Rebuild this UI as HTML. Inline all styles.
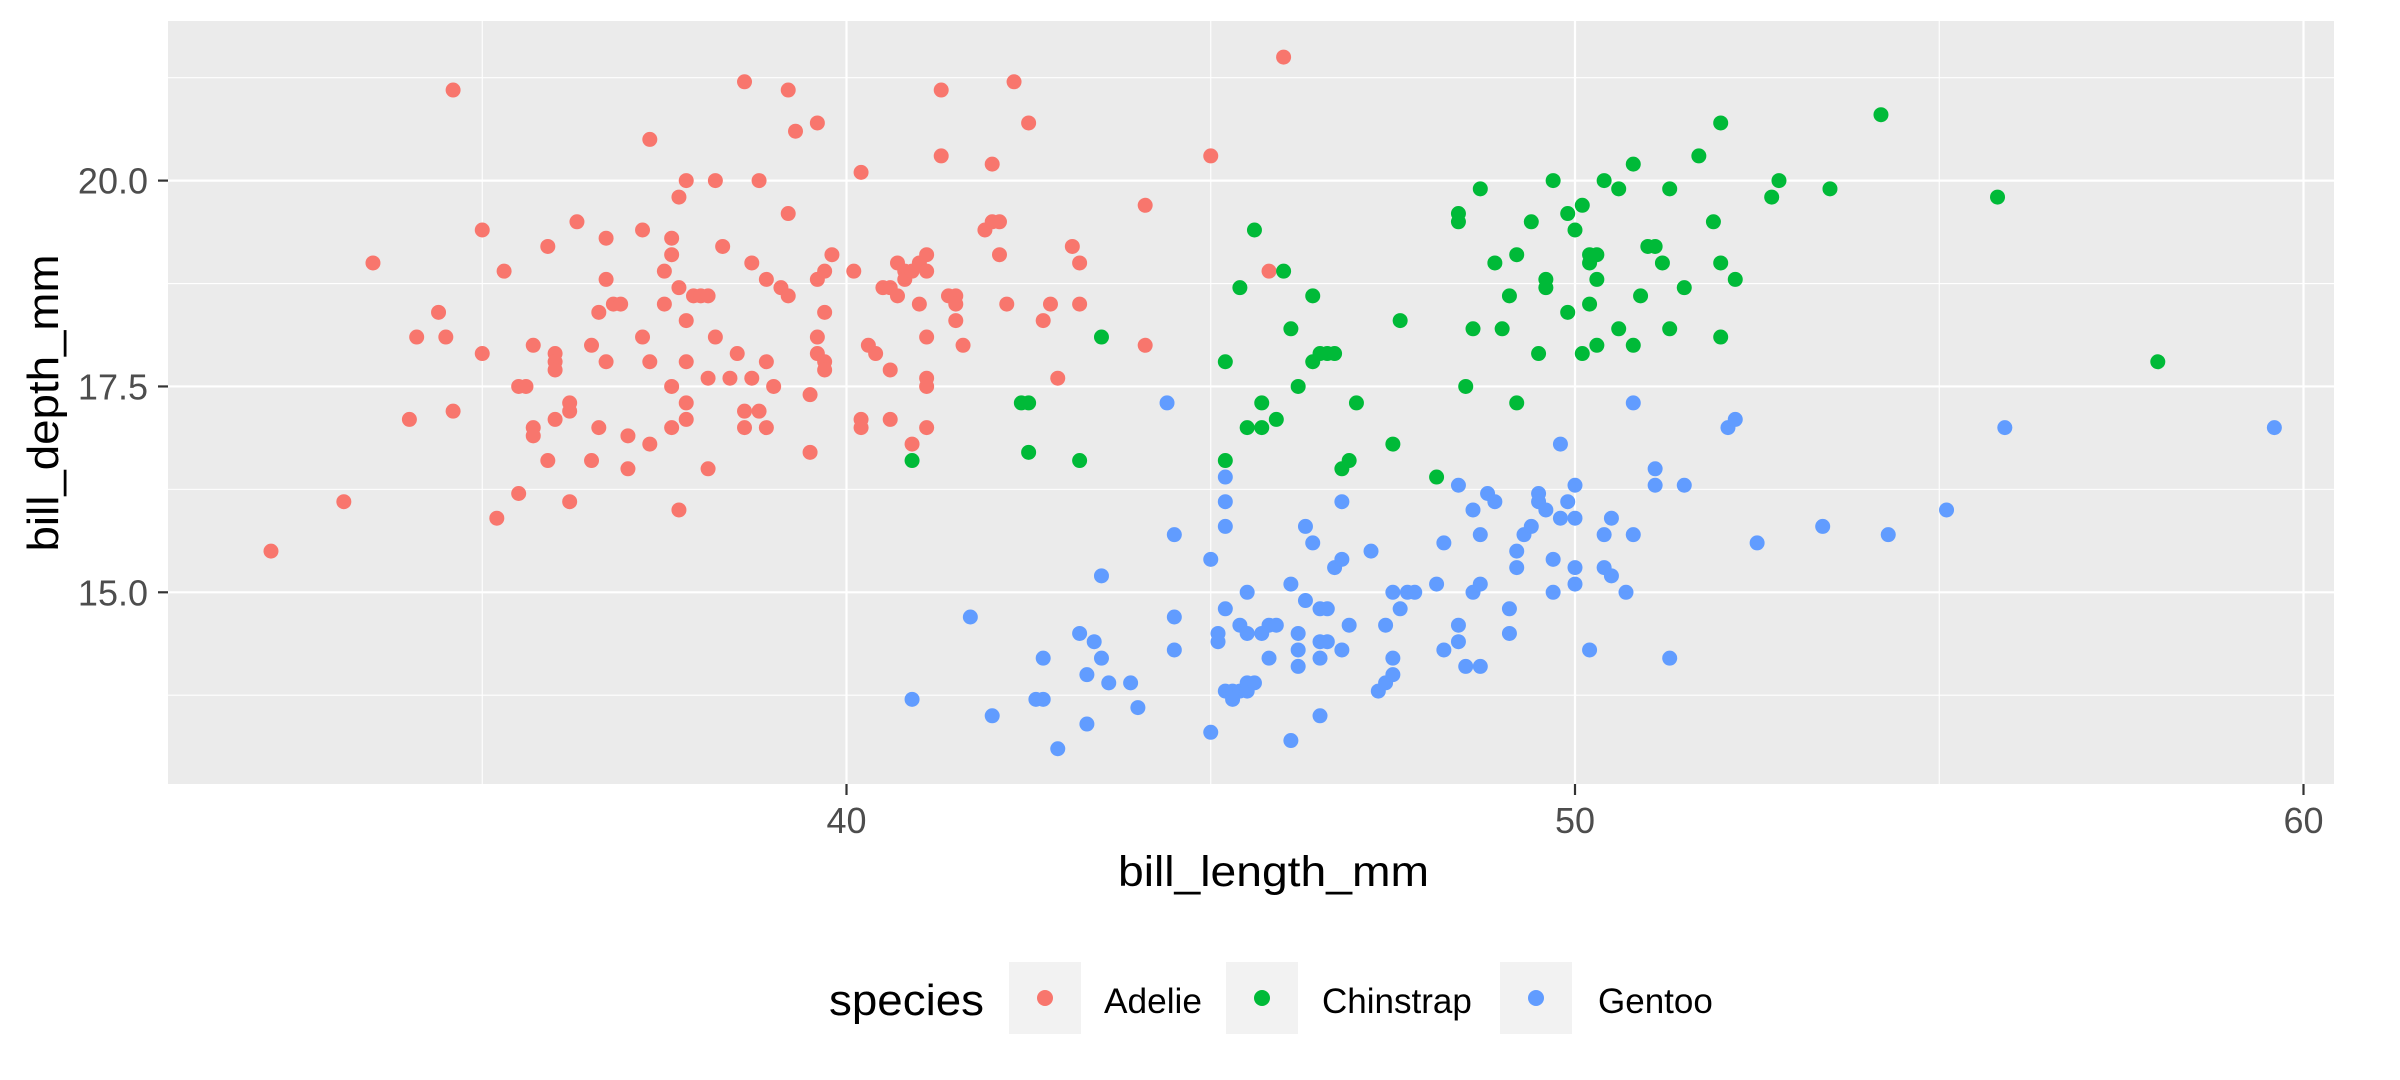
<!DOCTYPE html>
<html>
<head>
<meta charset="utf-8">
<style>
  html,body{margin:0;padding:0;background:#fff;}
  svg{display:block;font-family:"Liberation Sans",Arial,sans-serif;}
</style>
</head>
<body>
<svg id="chart" width="2400" height="1080" viewBox="0 0 2400 1080" xmlns="http://www.w3.org/2000/svg">
  <rect x="0" y="0" width="2400" height="1080" fill="#ffffff"/>
  <rect x="168" y="21" width="2166" height="763" fill="#EBEBEB"/>
  <g id="grid"></g>
  <g id="points"></g>
  <g id="yticks"></g>
  <g id="xticks"></g>
  <text x="58" y="403" transform="rotate(-90 58 403)" text-anchor="middle" font-size="44" textLength="297" lengthAdjust="spacingAndGlyphs" fill="#000">bill_depth_mm</text>
  <text x="1118" y="886" font-size="43" textLength="311" lengthAdjust="spacingAndGlyphs" fill="#000">bill_length_mm</text>
  <g>
    <text x="829" y="1015" font-size="44" textLength="155" lengthAdjust="spacingAndGlyphs" fill="#000">species</text>
    <g>
      <rect x="1009" y="962" width="72" height="72" fill="#F2F2F2"/>
      <circle cx="1045" cy="998" r="8" fill="#F8766D"/>
      <text x="1104" y="1013" font-size="35" textLength="98" lengthAdjust="spacingAndGlyphs" fill="#000">Adelie</text>
    </g>
    <g>
      <rect x="1226" y="962" width="72" height="72" fill="#F2F2F2"/>
      <circle cx="1262" cy="998" r="8" fill="#00BA38"/>
      <text x="1322" y="1013" font-size="35" fill="#000">Chinstrap</text>
    </g>
    <g>
      <rect x="1500" y="962" width="72" height="72" fill="#F2F2F2"/>
      <circle cx="1536" cy="998" r="8" fill="#619CFF"/>
      <text x="1598" y="1013" font-size="35" fill="#000">Gentoo</text>
    </g>
  </g>
</svg>
<script>
const xTicks = [40, 50, 60];
const xTickLabels = ["40", "50", "60"];
const xMinor = [35, 45, 55];
const yTicks = [15, 17.5, 20];
const yTickLabels = ["15.0", "17.5", "20.0"];
const yMinor = [13.75, 16.25, 18.75, 21.25];

const adelieX = [32.1,33.1,33.5,34.0,34.1,34.4,34.6,34.5,34.6,35.0,35.0,35.2,35.3,35.5,35.5,35.6,35.7,35.7,35.7,35.9,35.9,36.0,36.0,36.0,36.0,36.2,36.2,36.2,36.3,36.5,36.5,36.6,36.6,36.7,36.7,36.7,36.8,36.9,37.0,37.0,37.2,37.2,37.3,37.3,37.3,37.5,37.5,37.6,37.6,37.6,37.6,37.7,37.7,37.7,37.8,37.8,37.8,37.8,37.8,37.9,38.0,38.1,38.1,38.1,38.2,38.2,38.3,38.4,38.5,38.6,38.6,38.6,38.7,38.7,38.8,38.8,38.9,38.9,38.9,39.0,39.1,39.2,39.2,39.2,39.3,39.5,39.5,39.6,39.6,39.6,39.6,39.7,39.7,39.7,39.7,39.8,40.1,40.2,40.2,40.3,40.2,40.4,40.5,40.6,40.6,40.6,40.7,40.8,40.8,40.7,40.9,40.9,41.0,41.0,41.1,41.1,41.1,41.1,41.1,41.1,41.3,41.3,41.4,41.5,41.5,41.5,41.6,41.9,42.0,42.0,42.1,42.1,42.2,42.3,42.5,42.7,42.8,42.9,43.1,43.2,43.2,44.1,44.1,45.0,46.0,45.8];
const adelieY = [15.5,16.1,19.0,17.1,18.1,18.4,21.1,18.1,17.2,19.4,17.9,15.9,18.9,16.2,17.5,17.5,18.0,17.0,16.9,19.2,16.6,17.9,17.8,17.1,17.7,17.3,17.2,16.1,19.5,16.6,18.0,18.4,17.0,18.8,19.3,17.8,18.5,18.5,16.9,16.5,19.4,18.1,17.8,16.8,20.5,18.9,18.5,19.3,19.1,17.5,17.0,18.7,19.8,16.0,20.0,18.3,17.8,17.3,17.1,18.6,18.6,16.5,18.6,17.6,20.0,18.1,19.2,17.6,17.9,21.2,17.2,17.0,19.0,17.6,20.0,17.2,18.8,17.8,17.0,17.5,18.7,18.6,19.6,21.1,20.6,17.4,16.7,20.7,18.8,18.1,17.9,17.8,17.7,18.4,18.9,19.1,18.9,17.1,20.1,18.0,17.0,17.9,18.7,17.1,17.7,18.7,19.0,18.9,18.8,18.6,16.8,18.9,19.0,18.5,18.9,19.1,17.6,17.5,18.1,17.0,21.1,20.3,18.6,18.6,18.5,18.3,18.0,19.4,20.2,19.5,19.5,19.1,18.5,21.2,20.7,18.3,18.5,17.6,19.2,19.0,18.5,19.7,18.0,20.3,21.5,18.9];

const chinX = [40.9,42.4,42.5,42.5,43.2,43.5,45.2,45.2,45.4,45.6,45.5,45.7,45.7,45.9,46.0,46.1,46.2,46.4,46.4,46.5,46.6,46.7,46.8,46.9,47.0,47.6,47.5,48.1,48.5,48.4,48.4,48.7,48.6,48.9,49.0,49.1,49.2,49.2,49.4,49.5,49.6,49.6,49.7,49.9,49.9,50.0,50.1,50.2,50.2,50.2,50.3,50.3,50.3,50.4,50.6,50.6,50.8,50.8,50.9,51.0,51.1,51.2,51.3,51.3,51.5,51.7,51.9,52.0,52.0,52.0,52.2,52.7,52.8,53.5,54.2,55.8,58.0,50.1];
const chinY = [16.6,17.3,17.3,16.7,16.6,18.1,16.6,17.8,18.7,19.4,17.0,17.0,17.3,17.1,18.9,18.2,17.5,18.6,17.8,17.9,17.9,17.9,16.5,16.6,17.3,18.3,16.8,16.4,17.5,19.6,19.5,19.9,18.2,19.0,18.2,18.6,19.1,17.3,19.5,17.9,18.8,18.7,20.0,19.6,18.4,19.4,19.7,19.0,18.5,19.1,19.1,18.8,18.0,20.0,18.2,19.9,20.2,18.0,18.6,19.2,19.2,19.0,19.9,18.2,18.7,20.3,19.5,20.7,19.0,18.1,18.8,19.8,20.0,19.9,20.8,19.8,17.8,17.9];

const gentooX = [40.9,41.7,42.0,42.7,42.6,42.7,42.9,43.2,43.3,43.3,43.4,43.5,43.5,43.6,43.9,44.0,44.4,44.5,44.5,44.5,45.0,45.0,45.1,45.1,45.2,45.2,45.2,45.2,45.3,45.4,45.5,45.2,45.3,45.4,45.5,45.5,45.5,45.6,45.7,45.8,45.9,45.8,46.1,46.1,46.2,46.2,46.2,46.3,46.3,46.4,46.5,46.5,46.6,46.5,46.6,46.5,46.7,46.8,46.8,46.8,46.9,47.2,47.3,47.4,47.4,47.5,47.5,47.5,47.7,47.8,47.6,48.1,48.2,48.2,48.4,48.4,48.4,48.5,48.7,48.6,48.6,48.7,48.7,48.8,48.9,49.1,49.1,49.2,49.2,49.3,49.4,49.5,49.5,49.6,49.7,49.7,49.8,49.8,49.9,50.0,50.0,50.0,50.0,50.2,50.4,50.4,50.5,50.5,50.7,50.8,50.8,51.1,51.1,51.3,51.5,52.1,52.2,52.5,53.4,54.3,55.1,55.9,59.6];
const gentooY = [13.7,14.7,13.5,14.2,13.7,13.7,13.1,14.5,13.4,14.0,14.4,14.2,15.2,13.9,13.9,13.6,17.3,14.7,14.3,15.7,13.3,15.4,14.5,14.4,16.4,16.1,15.8,13.8,13.8,13.8,13.8,14.8,13.7,14.6,15.0,13.9,14.5,13.9,14.5,14.6,14.6,14.2,13.2,15.1,14.5,14.3,14.1,15.8,14.9,15.6,13.5,14.4,14.4,14.8,14.8,14.2,15.3,15.4,16.1,14.3,14.6,15.5,13.8,13.9,14.6,14.2,14.0,15.0,15.0,15.0,14.8,15.1,15.6,14.3,16.3,14.6,14.4,14.1,14.1,16.0,15.0,15.1,15.7,16.2,16.1,14.8,14.5,15.3,15.5,15.7,15.8,16.2,16.1,16.0,15.4,15.0,16.8,15.9,16.1,15.9,16.3,15.3,15.1,14.3,15.7,15.3,15.9,15.2,15.0,15.7,17.3,16.3,16.5,14.2,16.3,17.0,17.1,15.6,15.8,15.7,16.0,17.0,17.0];

const NS = "http://www.w3.org/2000/svg";
const px0 = 168, px1 = 2334, py0 = 21, py1 = 784;
function xScale(v){ return 846.5 + (v - 40) * 72.85; }
function yScale(v){ return 592.3 - (v - 15) * 82.34; }
function mk(tag, attrs, parent){
  const el = document.createElementNS(NS, tag);
  for (const k in attrs) el.setAttribute(k, attrs[k]);
  parent.appendChild(el);
  return el;
}
const grid = document.getElementById('grid');
xMinor.forEach(v => {
  const l = mk('line', {x1:xScale(v), x2:xScale(v), y1:py0, y2:py1, stroke:'#fff', 'stroke-width':1.1}, grid);
  
  
});
yMinor.forEach(v => {
  const l = mk('line', {x1:px0, x2:px1, y1:yScale(v), y2:yScale(v), stroke:'#fff', 'stroke-width':1.1}, grid);
  
  
});
const xt = document.getElementById('xticks');
xTicks.forEach((v, i) => {
  const l = mk('line', {x1:xScale(v), x2:xScale(v), y1:py0, y2:py1, stroke:'#fff', 'stroke-width':2.2}, grid);
  
  
  const t = mk('line', {x1:xScale(v), x2:xScale(v), y1:py1, y2:py1+11, stroke:'#333', 'stroke-width':2.2}, xt);
  
  
  const tx = mk('text', {x:xScale(v), y:833, 'text-anchor':'middle', 'font-size':36, fill:'#4D4D4D'}, xt);
  tx.textContent = xTickLabels[i];
  
  
});
const yt = document.getElementById('yticks');
yTicks.forEach((v, i) => {
  const l = mk('line', {x1:px0, x2:px1, y1:yScale(v), y2:yScale(v), stroke:'#fff', 'stroke-width':2.2}, grid);
  
  
  const t = mk('line', {x1:px0-10, x2:px0, y1:yScale(v), y2:yScale(v), stroke:'#333', 'stroke-width':2.2}, yt);
  
  
  const tx = mk('text', {x:148, y:yScale(v)+13, 'text-anchor':'end', 'font-size':36, fill:'#4D4D4D'}, yt);
  tx.textContent = yTickLabels[i];
  
  
});
const pts = document.getElementById('points');
function series(xs, ys, color, name){
  for (let i = 0; i < xs.length; i++){
    const c = mk('circle', {cx:xScale(xs[i]), cy:yScale(ys[i]), r:7.5, fill:color}, pts);
    
    
  }
}
series(adelieX, adelieY, '#F8766D', 'point-adelie');
series(chinX, chinY, '#00BA38', 'point-chinstrap');
series(gentooX, gentooY, '#619CFF', 'point-gentoo');
</script>
</body>
</html>
